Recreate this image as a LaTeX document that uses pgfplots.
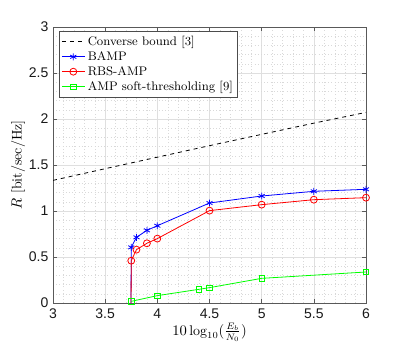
\documentclass[border=0pt]{standalone}
\usepackage{pgfplots}
\pgfplotsset{compat=1.18}
\usepackage{fontspec}
\newfontfamily\ticksans{Liberation Sans}
\begin{document}
\begin{tikzpicture}
\begin{axis}[
  name=ax,
  scale only axis,
  width=234.75pt, height=207pt,
  xmin=3, xmax=6, ymin=0, ymax=3,
  xtick={3,3.5,4,4.5,5,5.5,6},
  ytick={0,0.5,1,1.5,2,2.5,3},
  minor tick num=4,
  tick align=inside,
  major tick length=3pt,
  minor tick length=0pt,
  axis line style={gray!70!black, line width=0.5pt},
  tick style={gray!70!black, line width=0.4pt},
  grid=both,
  major grid style={gray!25, line width=0.3pt},
  minor grid style={gray!30, dotted, line width=0.3pt},
  /pgf/number format/assume math mode=true,
  tick label style={font=\ticksans\fontsize{10.5}{12}\selectfont, text=gray!20!black},
  xticklabel style={yshift=-1pt},
  xlabel={$10\log_{10}(\frac{E_b}{N_0})$},
  ylabel={$R$ [bit/sec/Hz]},
  label style={font=\fontsize{10.5}{12}\selectfont},
  xlabel style={yshift=4pt},
  ylabel style={yshift=-4pt},
  legend style={at={(0.02,0.985)}, anchor=north west, draw=gray!60!black, line width=0.4pt,
    font=\fontsize{9.3}{11}\selectfont, row sep=-1pt, inner sep=1.5pt, cells={anchor=west}},
  legend cell align=left,
  every axis plot/.append style={line width=0.6pt},
]
\addplot[blue, forget plot, mark=none] coordinates {(3.748,0) (3.75,0.605)};
\addplot[red, forget plot, mark=none] coordinates {(3.748,0) (3.75,0.46)};
\addplot[black, dashed, mark=none] coordinates {
(3,1.333) (3.5,1.46) (4,1.585) (4.5,1.71) (5,1.833) (5.5,1.955) (6,2.072)};
\addlegendentry{Converse bound [3]}
\addplot[blue, mark=asterisk, mark size=2.6pt] coordinates {
(3.75,0.605) (3.8,0.714) (3.9,0.79) (4.0,0.84) (4.5,1.087) (5,1.163) (5.5,1.214) (6,1.236)};
\addlegendentry{BAMP}
\addplot[red, mark=o, mark size=2.6pt] coordinates {
(3.75,0.46) (3.8,0.58) (3.9,0.649) (4.0,0.70) (4.5,1.004) (5,1.069) (5.5,1.123) (6,1.145)};
\addlegendentry{RBS-AMP}
\addplot[green, mark=square, mark size=2pt] coordinates {
(3.75,0.018) (4.0,0.08) (4.4,0.149) (4.5,0.167) (5,0.268) (6,0.337)};
\addlegendentry{AMP soft-thresholding [9]}
\end{axis}
\pgfresetboundingbox
\path ([xshift=-39.75pt,yshift=-32.25pt]ax.south west) rectangle ([xshift=28.5pt,yshift=20.25pt]ax.north east);
\end{tikzpicture}
\end{document}
